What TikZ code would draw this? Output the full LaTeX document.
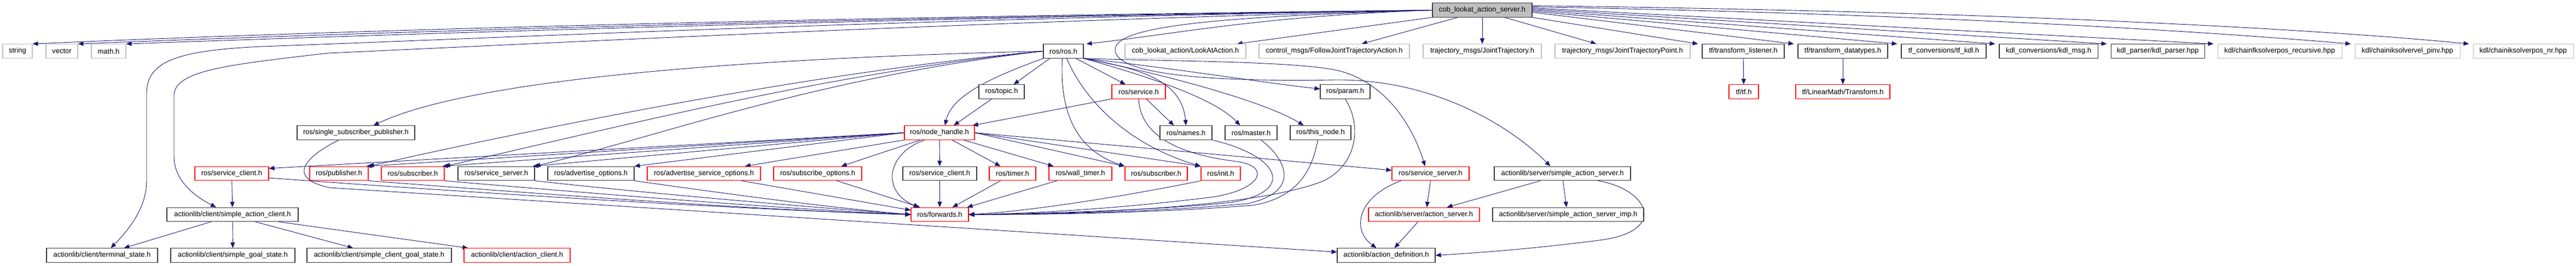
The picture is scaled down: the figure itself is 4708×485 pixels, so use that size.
\documentclass[tikz,border=0pt]{standalone}
\usepackage{fontspec}
\setmainfont{Liberation Sans}
\usetikzlibrary{arrows.meta,calc,backgrounds}
\definecolor{navyc}{RGB}{25,25,112}
\definecolor{sysgray}{RGB}{191,191,191}
\definecolor{rootfill}{RGB}{191,191,191}
\definecolor{boxblack}{RGB}{60,60,60}
\definecolor{truncred}{RGB}{255,0,0}
\tikzset{
  hdr/.style={draw=boxblack, fill=white, line width=1.1pt, minimum height=25.5pt, inner sep=0pt, font=\fontsize{13}{15}\selectfont},
  sys/.style={hdr, draw=sysgray},
  trunc/.style={hdr, draw=truncred},
  rootbox/.style={hdr, draw=boxblack, fill=rootfill},
  edge/.style={draw=navyc, line width=0.9pt, -{Triangle[length=10pt,width=8pt]}}
}
\begin{document}
\begin{tikzpicture}[x=1pt,y=-1pt]
\useasboundingbox (0,0) rectangle (4708,485);
% row 1
\node[rootbox, minimum width=182pt] (root) at (2709,18.5) {cob\_lookat\_action\_server.h};
% row 2
\node[sys, minimum width=54pt] (string) at (32,93.5) {string};
\node[sys, minimum width=58pt] (vector) at (113,93.5) {vector};
\node[sys, minimum width=63pt] (math) at (198.5,93.5) {math.h};
\node[hdr, minimum width=73pt] (rosh) at (1943.5,93.5) {ros/ros.h};
\node[sys, minimum width=221pt] (lookat) at (2166.5,93.5) {cob\_lookat\_action/LookAtAction.h};
\node[sys, minimum width=275pt] (fjta) at (2438.5,93.5) {control\_msgs/FollowJointTrajectoryAction.h};
\node[sys, minimum width=216pt] (jt) at (2709,93.5) {trajectory\_msgs/JointTrajectory.h};
\node[sys, minimum width=247pt] (jtp) at (2965.5,93.5) {trajectory\_msgs/JointTrajectoryPoint.h};
\node[hdr, minimum width=150pt] (tfl) at (3186,93.5) {tf/transform\_listener.h};
\node[hdr, minimum width=164pt] (tfd) at (3368,93.5) {tf/transform\_datatypes.h};
\node[hdr, minimum width=155pt] (tfkdl) at (3552.5,93.5) {tf\_conversions/tf\_kdl.h};
\node[hdr, minimum width=180pt] (kdlmsg) at (3744,93.5) {kdl\_conversions/kdl\_msg.h};
\node[hdr, minimum width=171pt] (kdlp) at (3943.5,93.5) {kdl\_parser/kdl\_parser.hpp};
\node[sys, minimum width=227pt] (fk) at (4166.5,93.5) {kdl/chainfksolverpos\_recursive.hpp};
\node[sys, minimum width=192pt] (pinv) at (4400,93.5) {kdl/chainiksolvervel\_pinv.hpp};
\node[sys, minimum width=183pt] (posnr) at (4611.5,93.5) {kdl/chainiksolverpos\_nr.hpp};
% row 3
\node[hdr, minimum width=83pt] (topic) at (1830.5,167.5) {ros/topic.h};
\node[trunc, minimum width=98pt] (service) at (2081,167.5) {ros/service.h};
\node[hdr, minimum width=91pt] (param) at (2458.5,167.5) {ros/param.h};
\node[trunc, minimum width=54pt] (tftf) at (3187,167.5) {tf/tf.h};
\node[trunc, minimum width=172pt] (transform) at (3368,167.5) {tf/LinearMath/Transform.h};
% row 4
\node[hdr, minimum width=215pt] (ssp) at (650.5,242.5) {ros/single\_subscriber\_publisher.h};
\node[trunc, minimum width=128pt] (nh) at (1717,242.5) {ros/node\_handle.h};
\node[hdr, minimum width=95pt] (names) at (2167.5,242.5) {ros/names.h};
\node[hdr, minimum width=95pt] (master) at (2286.5,242.5) {ros/master.h};
\node[hdr, minimum width=111pt] (thisnode) at (2413.5,242.5) {ros/this\_node.h};
% row 5
\node[trunc, minimum width=135pt] (scred) at (423.5,317) {ros/service\_client.h};
\node[trunc, minimum width=107pt] (pub) at (619.5,317) {ros/publisher.h};
\node[trunc, minimum width=115pt] (sub1) at (754.5,317) {ros/subscriber.h};
\node[hdr, minimum width=140pt] (ssblk) at (907,317) {ros/service\_server.h};
\node[hdr, minimum width=158pt] (advo) at (1080,317) {ros/advertise\_options.h};
\node[trunc, minimum width=207pt] (adso) at (1286.5,317) {ros/advertise\_service\_options.h};
\node[trunc, minimum width=161pt] (subo) at (1494.5,317) {ros/subscribe\_options.h};
\node[hdr, minimum width=135pt] (scblk) at (1717.5,317) {ros/service\_client.h};
\node[trunc, minimum width=85pt] (timer) at (1850.5,317) {ros/timer.h};
\node[trunc, minimum width=115pt] (wtimer) at (1974.5,317) {ros/wall\_timer.h};
\node[trunc, minimum width=114pt] (sub2) at (2113,317) {ros/subscriber.h};
\node[trunc, minimum width=72pt] (init) at (2231,317) {ros/init.h};
\node[trunc, minimum width=141pt] (ssred) at (2614.5,317) {ros/service\_server.h};
\node[hdr, minimum width=249pt] (sas) at (2855.5,317) {actionlib/server/simple\_action\_server.h};
% row 6
\node[hdr, minimum width=240pt] (sac) at (425,392) {actionlib/client/simple\_action\_client.h};
\node[trunc, minimum width=105pt] (fwd) at (1717.5,392) {ros/forwards.h};
\node[trunc, minimum width=203pt] (asrv) at (2602.5,392) {actionlib/server/action\_server.h};
\node[hdr, minimum width=276pt] (sasimp) at (2866,392) {actionlib/server/simple\_action\_server\_imp.h};
% row 7
\node[hdr, minimum width=203pt] (ts) at (186.5,466.5) {actionlib/client/terminal\_state.h};
\node[hdr, minimum width=227pt] (sgs) at (425.5,466.5) {actionlib/client/simple\_goal\_state.h};
\node[hdr, minimum width=264pt] (scgs) at (693,466.5) {actionlib/client/simple\_client\_goal\_state.h};
\node[trunc, minimum width=194pt] (ac) at (945,466.5) {actionlib/client/action\_client.h};
\node[hdr, minimum width=179pt] (ad) at (2533.5,466.5) {actionlib/action\_definition.h};

\begin{pgfonlayer}{background}
% root edges
\draw[edge] (root.west) .. controls (1600,30) and (700,52) .. (string.north east);
\draw[edge] (root.west) .. controls (1600,32) and (750,56) .. (vector.north east);
\draw[edge] (root.west) .. controls (1600,34) and (800,60) .. (math.north east);
\draw[edge] (root.west) .. controls (1600,36) and (900,70) .. (478,85) .. controls (330,92) and (268,110) .. (268,170) -- (268,330) .. controls (268,380) and (235,420) .. ($(ts.north)+(16,0)$);
\draw[edge] (root.west) .. controls (1700,42) and (900,84) .. (600,97) .. controls (420,118) and (318,128) .. (318,175) -- (318,285) .. controls (318,330) and (355,358) .. ($(sac.north)+(-30,0)$);
\draw[edge] (root.west) .. controls (2300,30) and (2150,62) .. ($(rosh.north east)+(5,0)$);
\draw[edge] (root.west) .. controls (2250,30) and (2040,45) .. (2038,90) .. controls (2036,135) and (2200,150) .. (2440,146) .. controls (2620,144) and (2760,230) .. ($(sas.north)+(-22,0)$);
\draw[edge] (root.south west) -- ($(lookat.north east)+(-17,0)$);
\draw[edge] ($(root.south)+(-45,0)$) -- ($(fjta.north)+(50,0)$);
\draw[edge] (root) -- (jt);
\draw[edge] ($(root.south)+(41,0)$) -- ($(jtp.north)+(-48,0)$);
\draw[edge] (root.south east) -- ($(tfl.north west)+(-7,0)$);
\draw[edge] ($(root.east)+(0,4)$) -- ($(tfd.north west)+(-7,0)$);
\draw[edge] ($(root.east)+(0,2)$) -- ($(tfkdl.north west)+(-7,0)$);
\draw[edge] (root.east) -- ($(kdlmsg.north west)+(-7,0)$);
\draw[edge] ($(root.east)+(0,-2)$) -- ($(kdlp.north west)+(-7,0)$);
\draw[edge] ($(root.east)+(0,-4)$) -- ($(fk.north west)+(-7,0)$);
\draw[edge] ($(root.east)+(0,-6)$) .. controls (3500,25) and (4000,55) .. ($(pinv.north west)+(-7,0)$);
\draw[edge] ($(root.east)+(0,-8)$) .. controls (3600,20) and (4200,50) .. ($(posnr.north west)+(-7,0)$);
% ros.h edges
\draw[edge] ($(rosh.south)+(-25,0)$) -- ($(topic.north)+(22,0)$);
\draw[edge] (rosh.south west) .. controls (1830,135) and (1740,170) .. ($(nh.north)+(10,0)$);
\draw[edge] ($(rosh.south)+(23,0)$) -- ($(service.north)+(-24,0)$);
\draw[edge] (rosh.south east) .. controls (2080,125) and (2160,145) .. (names.north);
\draw[edge] (rosh.south east) .. controls (2100,140) and (2220,180) .. ($(master.north)+(-20,0)$);
\draw[edge] (rosh.south east) .. controls (2150,140) and (2320,190) .. ($(thisnode.north)+(-31,0)$);
\draw[edge] (rosh.south east) .. controls (2150,125) and (2300,150) .. ($(param.west)+(0,-5)$);
\draw[edge] (rosh.south east) .. controls (2150,112) and (2380,112) .. (2450,130) .. controls (2540,155) and (2585,240) .. ($(ssred.north)+(-10,0)$);
\draw[edge] ($(rosh.south)+(-2,0)$) .. controls (1936,210) and (1970,275) .. (sub2.north west);
\draw[edge] ($(rosh.south)+(6,0)$) .. controls (1990,200) and (2080,270) .. (init.north west);
\draw[edge] (rosh.west) .. controls (1300,108) and (850,150) .. ($(ssp.north)+(32,0)$);
\draw[edge] (rosh.west) .. controls (1500,130) and (1000,230) .. (pub.north east);
\draw[edge] (rosh.west) .. controls (1500,135) and (1100,240) .. (sub1.north east);
\draw[edge] (rosh.west) .. controls (1500,140) and (1200,250) .. (ssblk.north east);
% node_handle edges
\draw[edge] (nh.west) -- ($(scred.north east)+(0,4)$);
\draw[edge] (nh.west) -- ($(pub.north east)+(-4,0)$);
\draw[edge] (nh.west) -- ($(sub1.north east)+(-4,0)$);
\draw[edge] (nh.west) -- ($(ssblk.north east)+(-4,0)$);
\draw[edge] (nh.west) -- (advo.north east);
\draw[edge] (nh.south west) -- ($(adso.north east)+(-29,0)$);
\draw[edge] ($(nh.south)+(-35,0)$) -- ($(subo.north east)+(-38,0)$);
\draw[edge] (nh) -- (scblk);
\draw[edge] ($(nh.south)+(23,0)$) -- ($(timer.north)+(-22,0)$);
\draw[edge] ($(nh.south)+(44,0)$) -- ($(wtimer.north west)+(9,0)$);
\draw[edge] (nh.east) -- (sub2.north west);
\draw[edge] (nh.east) -- (init.north west);
\draw[edge] (nh.east) -- ($(ssred.west)+(0,-6)$);
\draw[edge] ($(nh.south)+(-27,0)$) .. controls (1620,280) and (1610,350) .. ($(fwd.north west)+(15,0)$);
\draw[edge] ($(topic.south)+(-18,0)$) -- ($(nh.north)+(26,0)$);
\draw[edge] (service.south west) -- ($(nh.north east)+(-4,0)$);
\draw[edge] ($(service.south)+(14,0)$) -- ($(names.north)+(-22,0)$);
% into forwards from the right
\draw[edge] (service.south) .. controls (2085,260) and (2180,285) .. (2260,295) .. controls (2330,305) and (2300,352) .. (2200,362) .. controls (2050,380) and (1900,390) .. (fwd.east);
\draw[edge] (names.south east) .. controls (2340,285) and (2370,350) .. (2250,370) .. controls (2100,385) and (1900,390) .. (fwd.east);
\draw[edge] ($(master.south)+(18,0)$) .. controls (2350,290) and (2380,350) .. (2280,372) .. controls (2100,388) and (1900,392) .. (fwd.east);
\draw[edge] ($(thisnode.south)+(-5,0)$) .. controls (2400,300) and (2380,360) .. (2290,375) .. controls (2100,390) and (1900,392) .. (fwd.east);
\draw[edge] (param.south) .. controls (2490,230) and (2480,300) .. (2420,330) .. controls (2300,380) and (1950,392) .. (fwd.east);
\draw[edge] (init.south west) .. controls (2100,350) and (1900,385) .. (fwd.east);
\draw[edge] ($(wtimer.south west)+(15,0)$) -- ($(fwd.north east)+(-3,0)$);
\draw[edge] ($(timer.south)+(-22,0)$) -- ($(fwd.north east)+(-30,0)$);
\draw[edge] (scblk) -- (fwd);
% into forwards from the left
\draw[edge] ($(scred.east)+(0,8)$) .. controls (900,355) and (1400,385) .. (fwd.west);
\draw[edge] (pub.south east) .. controls (1000,355) and (1400,385) .. (fwd.west);
\draw[edge] (sub1.south east) .. controls (1100,355) and (1450,383) .. (fwd.west);
\draw[edge] (ssblk.south east) .. controls (1200,355) and (1500,380) .. (fwd.west);
\draw[edge] (advo.south east) .. controls (1300,350) and (1500,378) .. (fwd.west);
\draw[edge] ($(adso.south east)+(-35,0)$) -- ($(fwd.west)+(0,-8)$);
\draw[edge] ($(subo.south)+(35,0)$) -- ($(fwd.north west)+(17,0)$);
% single_subscriber_publisher long edge
\draw[edge] ($(ssp.south)+(-31,0)$) .. controls (560,285) and (520,325) .. (603,343) .. controls (1000,368) and (2000,432) .. ($(ad.west)+(0,-6)$);
% client side
\draw[edge] (scred) -- (sac);
\draw[edge] ($(sac.south west)+(81,0)$) -- ($(ts.north)+(40,0)$);
\draw[edge] (sac) -- (sgs);
\draw[edge] ($(sac.south)+(42,0)$) -- ($(scgs.north west)+(85,0)$);
\draw[edge] ($(sac.south east)+(-36,0)$) -- ($(ac.north west)+(8,0)$);
% server side
\draw[edge] (ssred.south) -- ($(asrv.north)+(5,0)$);
\draw[edge] ($(ssred.south west)+(17,0)$) .. controls (2480,360) and (2470,420) .. ($(ad.north)+(-18,0)$);
\draw[edge] ($(asrv.south)+(-11,0)$) -- ($(ad.north)+(15,0)$);
\draw[edge] ($(sas.south)+(-40,0)$) -- ($(asrv.north)+(42,0)$);
\draw[edge] ($(sas.south)+(1,0)$) -- ($(sasimp.north)+(-3,0)$);
\draw[edge] ($(sas.south east)+(-60,0)$) .. controls (3010,345) and (3050,420) .. (2930,438) .. controls (2800,455) and (2700,462) .. (ad.east);
% tf
\draw[edge] (tfl) -- (tftf);
\draw[edge] (tfd) -- (transform);
\end{pgfonlayer}
\end{tikzpicture}
\end{document}
